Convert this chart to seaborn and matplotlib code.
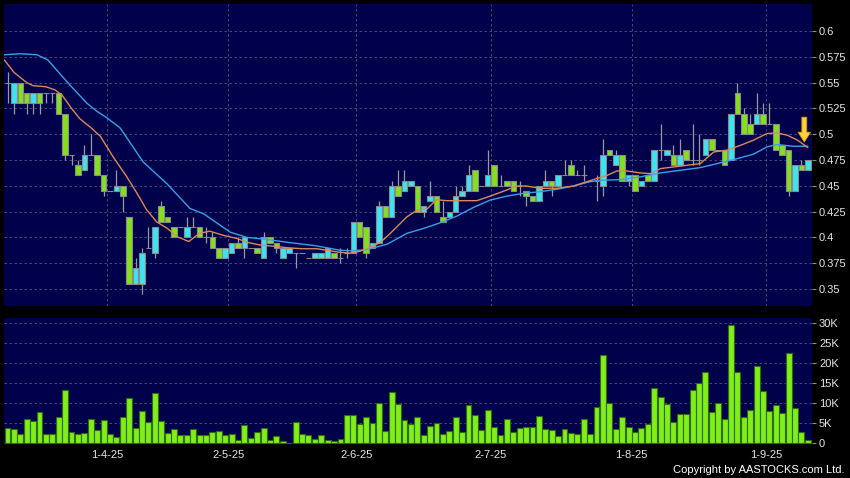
import numpy as np
import pandas as pd
import seaborn as sns
import matplotlib.pyplot as plt

# trading days on the chart (HK calendar, 10 Mar - 9 Sep 2025)
hk_holidays = ["2025-04-04", "2025-04-18", "2025-04-21", "2025-05-01", "2025-05-05", "2025-07-01"]
dates = pd.bdate_range("2025-03-10", "2025-09-09")
dates = dates[~dates.isin(pd.to_datetime(hk_holidays))]

# daily candles
opens = [0.55, 0.53, 0.55, 0.54, 0.53, 0.54, 0.54, 0.54, 0.54, 0.52,
         0.48, 0.47, 0.465, 0.48, 0.48, 0.46, 0.445, 0.445, 0.45, 0.42,
         0.355, 0.355, 0.39, 0.385, 0.43, 0.42, 0.41, 0.41, 0.40, 0.41,
         0.41, 0.40, 0.40, 0.39, 0.38, 0.385, 0.395, 0.39, 0.39, 0.39,
         0.38, 0.40, 0.395, 0.38, 0.385, 0.385, 0.385, 0.38, 0.38, 0.38,
         0.38, 0.385, 0.38, 0.385, 0.385, 0.415, 0.41, 0.39, 0.395, 0.43,
         0.42, 0.45, 0.445, 0.45, 0.45, 0.425, 0.435, 0.44, 0.42, 0.42,
         0.425, 0.44, 0.445, 0.465, 0.45, 0.45, 0.47, 0.45, 0.455, 0.455,
         0.45, 0.445, 0.44, 0.435, 0.45, 0.455, 0.45, 0.46, 0.47, 0.46,
         0.46, 0.455, 0.455, 0.45, 0.485, 0.47, 0.48, 0.455, 0.46, 0.45,
         0.46, 0.455, 0.485, 0.48, 0.48, 0.47, 0.485, 0.475, 0.475, 0.48,
         0.495, 0.485, 0.485, 0.475, 0.54, 0.52, 0.51, 0.51, 0.52, 0.51,
         0.51, 0.49, 0.485, 0.445, 0.47, 0.465]
highs = [0.56, 0.55, 0.55, 0.54, 0.54, 0.54, 0.54, 0.54, 0.54, 0.52,
         0.48, 0.475, 0.49, 0.50, 0.48, 0.46, 0.445, 0.465, 0.45, 0.42,
         0.38, 0.39, 0.41, 0.41, 0.435, 0.42, 0.41, 0.41, 0.42, 0.42,
         0.41, 0.41, 0.405, 0.39, 0.39, 0.395, 0.40, 0.40, 0.39, 0.39,
         0.405, 0.40, 0.395, 0.39, 0.39, 0.385, 0.385, 0.38, 0.385, 0.385,
         0.39, 0.385, 0.39, 0.39, 0.415, 0.415, 0.41, 0.395, 0.435, 0.43,
         0.455, 0.465, 0.465, 0.455, 0.45, 0.43, 0.455, 0.44, 0.435, 0.425,
         0.45, 0.45, 0.47, 0.465, 0.45, 0.485, 0.47, 0.46, 0.455, 0.455,
         0.455, 0.445, 0.44, 0.45, 0.465, 0.455, 0.46, 0.475, 0.475, 0.465,
         0.47, 0.455, 0.46, 0.495, 0.485, 0.485, 0.48, 0.46, 0.46, 0.455,
         0.46, 0.485, 0.51, 0.485, 0.49, 0.495, 0.485, 0.51, 0.50, 0.495,
         0.495, 0.485, 0.485, 0.52, 0.55, 0.525, 0.52, 0.54, 0.53, 0.53,
         0.51, 0.49, 0.485, 0.47, 0.475, 0.475]
lows = [0.53, 0.52, 0.53, 0.52, 0.52, 0.52, 0.53, 0.53, 0.52, 0.475,
        0.47, 0.46, 0.465, 0.48, 0.46, 0.44, 0.445, 0.445, 0.425, 0.355,
        0.355, 0.345, 0.39, 0.38, 0.415, 0.415, 0.40, 0.41, 0.40, 0.41,
        0.40, 0.395, 0.39, 0.38, 0.38, 0.385, 0.39, 0.38, 0.39, 0.385,
        0.38, 0.395, 0.385, 0.38, 0.385, 0.37, 0.385, 0.38, 0.38, 0.38,
        0.38, 0.38, 0.375, 0.38, 0.385, 0.40, 0.38, 0.39, 0.395, 0.42,
        0.42, 0.44, 0.445, 0.45, 0.425, 0.42, 0.435, 0.425, 0.415, 0.42,
        0.425, 0.44, 0.445, 0.445, 0.45, 0.45, 0.45, 0.45, 0.45, 0.445,
        0.44, 0.43, 0.435, 0.435, 0.45, 0.44, 0.45, 0.46, 0.46, 0.46,
        0.455, 0.455, 0.435, 0.44, 0.48, 0.47, 0.455, 0.45, 0.445, 0.45,
        0.455, 0.455, 0.475, 0.48, 0.47, 0.47, 0.475, 0.47, 0.47, 0.48,
        0.485, 0.485, 0.47, 0.475, 0.52, 0.50, 0.50, 0.51, 0.51, 0.51,
        0.485, 0.48, 0.44, 0.445, 0.465, 0.465]
closes = [0.55, 0.55, 0.53, 0.53, 0.54, 0.53, 0.54, 0.54, 0.52, 0.48,
          0.48, 0.46, 0.48, 0.48, 0.46, 0.445, 0.445, 0.45, 0.44, 0.355,
          0.37, 0.385, 0.39, 0.41, 0.415, 0.415, 0.40, 0.41, 0.41, 0.41,
          0.40, 0.40, 0.39, 0.38, 0.39, 0.395, 0.39, 0.40, 0.39, 0.385,
          0.40, 0.395, 0.39, 0.39, 0.39, 0.385, 0.385, 0.38, 0.385, 0.385,
          0.39, 0.38, 0.38, 0.385, 0.415, 0.40, 0.385, 0.395, 0.43, 0.42,
          0.45, 0.44, 0.455, 0.455, 0.425, 0.43, 0.44, 0.425, 0.415, 0.425,
          0.44, 0.445, 0.46, 0.445, 0.45, 0.46, 0.45, 0.45, 0.45, 0.445,
          0.45, 0.44, 0.435, 0.45, 0.455, 0.45, 0.46, 0.46, 0.46, 0.46,
          0.46, 0.455, 0.455, 0.48, 0.48, 0.48, 0.455, 0.46, 0.445, 0.455,
          0.455, 0.485, 0.485, 0.485, 0.47, 0.48, 0.475, 0.475, 0.475, 0.495,
          0.485, 0.485, 0.47, 0.52, 0.52, 0.50, 0.50, 0.52, 0.51, 0.51,
          0.485, 0.48, 0.445, 0.47, 0.465, 0.475]

# daily volume, thousands of shares
volumes = [3.7, 3.4, 2.3, 5.9, 5.6, 7.8, 2.25, 2.25, 6.4, 13.25,
           2.8, 2.25, 2.5, 6.0, 3.2, 5.7, 2.2, 1.5, 6.6, 11.2,
           3.8, 7.9, 5.3, 12.6, 5.5, 2.5, 3.4, 2.0, 2.0, 3.5,
           2.0, 2.0, 2.8, 3.1, 2.1, 2.3, 0.75, 4.6, 1.25, 2.8,
           3.75, 0.75, 1.75, 0.5, 0.1, 5.3, 2.2, 1.9, 1.1, 2.1,
           0.8, 0.4, 1.1, 7.0, 7.0, 4.7, 6.6, 5.1, 10.0, 3.0,
           12.7, 9.8, 5.8, 4.75, 6.5, 2.1, 4.2, 5.0, 2.3, 3.0,
           6.4, 2.75, 9.4, 6.9, 3.3, 8.2, 4.1, 1.9, 6.0, 2.7,
           3.8, 4.0, 4.0, 6.75, 3.5, 3.3, 1.7, 3.5, 2.6, 2.2,
           6.0, 2.3, 9.0, 21.9, 9.9, 3.6, 6.6, 3.9, 2.8, 3.7,
           4.7, 13.8, 11.4, 9.8, 5.3, 7.2, 7.2, 13.3, 15.1, 17.8,
           7.75, 10.0, 5.9, 29.6, 17.7, 6.5, 8.3, 19.2, 12.9, 7.9,
           9.5, 7.5, 22.5, 8.7, 2.8, 0.75]

# moving averages, read at day positions
ma_short_x = [-0.5, 1, 3, 4, 6, 7.4, 8.5, 10, 11.3, 12.9, 14.5, 16.5, 18.6, 20.2,
              21.7, 23.3, 24.9, 26.4, 28.3, 30, 31.6, 33.7, 35.8, 37.6, 39.5, 41.5,
              43.6, 46, 48.3, 52, 53.5, 55, 56.6, 58.2, 59.8, 62.4, 64, 65.5, 67,
              68.6, 70.7, 73.3, 75.4, 78, 79.5, 81, 83.2, 85.8, 88.4, 91, 93.6,
              95.2, 96.7, 98.8, 100.4, 102, 105, 108.2, 110.3, 112.4, 114.5, 116.5,
              118.6, 120.2, 121.8, 123.4, 125]
ma_short = [0.572, 0.56, 0.55, 0.547, 0.546, 0.543, 0.538, 0.525, 0.515, 0.507,
            0.498, 0.478, 0.459, 0.443, 0.427, 0.415, 0.409, 0.401, 0.396, 0.404,
            0.406, 0.402, 0.399, 0.395, 0.3925, 0.3915, 0.390, 0.389, 0.389, 0.3855,
            0.3847, 0.3865, 0.390, 0.395, 0.404, 0.420, 0.4265, 0.4275, 0.4365, 0.4356,
            0.4356, 0.4356, 0.440, 0.446, 0.4498, 0.4498, 0.4476, 0.4476, 0.4498, 0.455,
            0.460, 0.4644, 0.4644, 0.4625, 0.4618, 0.4667, 0.469, 0.4715, 0.4828, 0.4845,
            0.4893, 0.4942, 0.5006, 0.5013, 0.499, 0.4942, 0.487]
ma_long_x = [-0.5, 2, 4.6, 6.3, 9.25, 12.4, 14, 15.5, 17.6, 21.2, 24.9, 28.5, 30.6,
             32.7, 34.8, 37.4, 40.5, 44, 48, 52, 53.5, 56, 59.3, 62.4, 65, 67.6,
             70.2, 72.8, 75.4, 78, 80.6, 83.2, 85.8, 88.4, 91, 92.6, 95.7, 98.8,
             102, 105, 108.2, 111.3, 113.4, 116.5, 118.6, 120.2, 121.2, 122.8, 125]
ma_long = [0.577, 0.578, 0.577, 0.572, 0.551, 0.530, 0.522, 0.516, 0.506, 0.473,
           0.452, 0.428, 0.423, 0.414, 0.405, 0.400, 0.398, 0.395, 0.392, 0.3875,
           0.387, 0.388, 0.3934, 0.404, 0.4087, 0.4142, 0.4207, 0.4291, 0.4362, 0.440,
           0.4427, 0.4443, 0.4466, 0.4498, 0.454, 0.4553, 0.456, 0.4586, 0.4625, 0.465,
           0.4676, 0.4722, 0.4754, 0.4806, 0.4877, 0.490, 0.4893, 0.4883, 0.4883]

price_ticks = [0.35, 0.375, 0.4, 0.425, 0.45, 0.475, 0.5, 0.525, 0.55, 0.575, 0.6]
vol_ticks = [0, 5, 10, 15, 20, 25, 30]
vol_labels = ["0", "5K", "10K", "15K", "20K", "25K", "30K"]
month_labels = ["1-4-25", "2-5-25", "2-6-25", "2-7-25", "1-8-25", "1-9-25"]

df = pd.DataFrame({"date": dates, "open": opens, "high": highs, "low": lows,
                   "close": closes, "volume": volumes})
df["day"] = np.arange(len(df))
df["up"] = df["close"] >= df["open"]

# first trading day of each month from April
first_days = df.groupby(df["date"].dt.to_period("M"))["day"].min().iloc[1:]
month_pos = first_days.values - 0.5

sns.set_style("dark")
plt.rcParams["font.family"] = ["Liberation Sans", "DejaVu Sans"]

bg = "#00004b"
grid_c = "#55557f"
fig = plt.figure(figsize=(8.5, 4.78), dpi=100, facecolor="black")
ax_p = fig.add_axes([4 / 850, 1 - 306 / 478, 808 / 850, 302 / 478])
ax_v = fig.add_axes([4 / 850, 1 - 444 / 478, 808 / 850, 126 / 478])

for ax in (ax_p, ax_v):
    ax.set_facecolor(bg)
    for s in ax.spines.values():
        s.set_visible(False)
    ax.grid(True, color=grid_c, linestyle=(0, (3, 3)), linewidth=0.6)
    ax.set_axisbelow(True)
    ax.yaxis.tick_right()
    ax.tick_params(axis="y", colors="#8c8c8c", labelcolor="#e6e6e6", length=3,
                   width=0.8, pad=2, labelsize=8)
    ax.set_xlim(-0.55, 125.65)

# candles
body_colors = np.where(df["up"], "#3de3f2", "#84e01e")
ax_p.vlines(df["day"], df["low"], df["high"], color="#9a9a9a", linewidth=0.9, zorder=2)
ax_p.bar(df["day"], df["close"] - df["open"], bottom=df["open"], width=0.86,
         color=body_colors, edgecolor="#8a8a8a", linewidth=0.8, zorder=3)

sns.lineplot(x=ma_long_x, y=ma_long, ax=ax_p, color="#3aa0e8", linewidth=1.0, zorder=4)
sns.lineplot(x=ma_short_x, y=ma_short, ax=ax_p, color="#d98a55", linewidth=1.0, zorder=4)

ax_p.annotate("", xy=(124.45, 0.4925), xytext=(124.45, 0.5165),
              arrowprops=dict(arrowstyle="simple,head_length=0.7,head_width=0.9,tail_width=0.35",
                              fc="#ffd23a", ec="#d89a00", lw=0.6, shrinkA=0, shrinkB=0),
              zorder=6)

ax_p.set_ylim(0.3335, 0.6262)
ax_p.set_yticks(price_ticks)
ax_p.set_yticklabels([f"{t:g}" for t in price_ticks])
ax_p.set_xticks(month_pos)
ax_p.tick_params(axis="x", length=0, labelbottom=False)
ax_p.set_xlabel("")
ax_p.set_ylabel("")

# volume
sns.barplot(x=df["day"], y=df["volume"], ax=ax_v, color="#7fee1a", saturation=1,
            width=0.92, edgecolor="#2f6a0c", linewidth=0.8, errorbar=None)
ax_v.set_xlim(-0.55, 125.65)
ax_v.set_ylim(-0.25, 31.25)
ax_v.set_yticks(vol_ticks)
ax_v.set_yticklabels(vol_labels)
ax_v.set_xticks(month_pos)
ax_v.set_xticklabels(month_labels)
ax_v.tick_params(axis="x", colors="#8c8c8c", labelcolor="#e6e6e6", length=2.5,
                 width=0.8, pad=2, labelsize=8)
ax_v.set_xlabel("")
ax_v.set_ylabel("")

fig.text(0.994, 0.006, "Copyright by AASTOCKS.com Ltd.", ha="right", va="bottom",
         color="white", fontsize=8)

fig.savefig("out.png", dpi=100, facecolor="black")
